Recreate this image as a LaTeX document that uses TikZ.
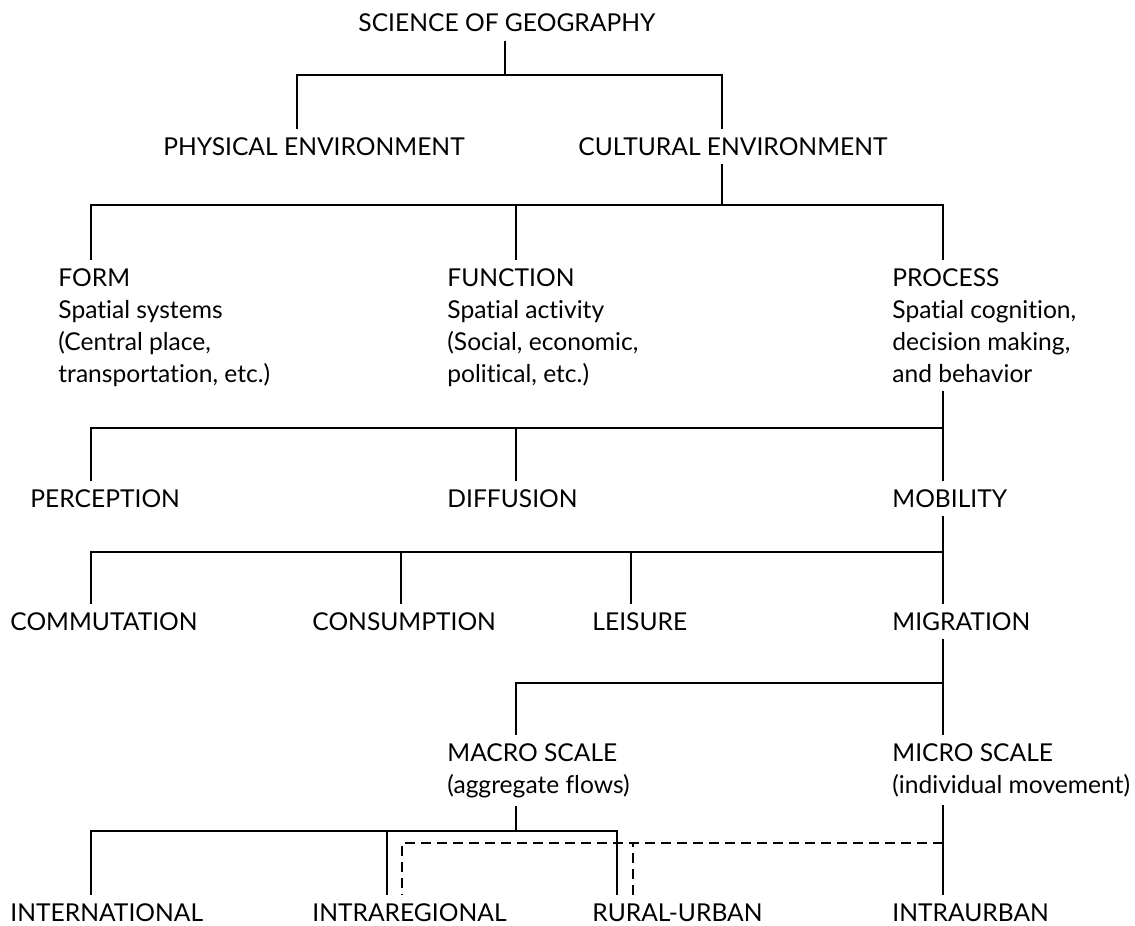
\documentclass[tikz,border=0pt]{standalone}
\usepackage{fontspec}
\setmainfont{Lato}[Ligatures=NoCommon]

\begin{document}
\begin{tikzpicture}[
  x=0.5pt,y=-0.5pt,
  txt/.style={anchor=base west,inner xsep=0pt,inner ysep=4pt,align=left,font=\fontsize{12.3}{16}\selectfont},
  link/.style={line width=1.3pt,draw=black},
  dlink/.style={line width=1.3pt,draw=black,dash pattern=on 5pt off 3pt}
]
\useasboundingbox (0,0) rectangle (1135,926);
\node[txt] (sci) at (358,32) {SCIENCE OF GEOGRAPHY};
\node[txt] (phys) at (163,155) {PHYSICAL ENVIRONMENT};
\node[txt] (cult) at (578,155) {CULTURAL ENVIRONMENT};
\node[txt] (form) at (58,382) {FORM\\Spatial systems\\(Central place,\\transportation, etc.)};
\node[txt] (func) at (447,382) {FUNCTION\\Spatial activity\\(Social, economic,\\political, etc.)};
\node[txt] (proc) at (892,382) {PROCESS\\Spatial cognition,\\decision making,\\and behavior};
\node[txt] (perc) at (30,507) {PERCEPTION};
\node[txt] (diff) at (447,507) {DIFFUSION};
\node[txt] (mob) at (892,507) {MOBILITY};
\node[txt] (comm) at (10,630) {COMMUTATION};
\node[txt] (cons) at (312,630) {CONSUMPTION};
\node[txt] (leis) at (592,630) {LEISURE};
\node[txt] (migr) at (892,630) {MIGRATION};
\node[txt] (macro) at (447,793) {MACRO SCALE\\(aggregate flows)};
\node[txt] (micro) at (892,793) {MICRO SCALE\\(individual movement)};
\node[txt] (intl) at (10,921) {INTERNATIONAL};
\node[txt] (ireg) at (312,921) {INTRAREGIONAL};
\node[txt] (rural) at (592,921) {RURAL-URBAN};
\node[txt] (iurb) at (892,921) {INTRAURBAN};

\coordinate (j-sci) at (505,75);
\coordinate (j-cult) at (722,205);
\coordinate (j-proc) at (943,428);
\coordinate (j-mob) at (943,552);
\coordinate (j-migr) at (943,683);
\coordinate (j-macro) at (516,831);
\coordinate (j-micro) at (943,843);

\draw[link] (sci.south -| j-sci) -- (j-sci);
\draw[link] (j-sci) -| (phys.north -| 297,0);
\draw[link] (j-sci) -| (cult.north -| 722,0);

\draw[link] (cult.south -| j-cult) -- (j-cult);
\draw[link] (j-cult) -| (form.north -| 91,0);
\draw[link] (j-cult) -| (func.north -| 516,0);
\draw[link] (j-cult) -| (proc.north -| 943,0);

\draw[link] (proc.south -| j-proc) -- (j-proc);
\draw[link] (j-proc) -| (perc.north -| 91,0);
\draw[link] (j-proc) -| (diff.north -| 516,0);
\draw[link] (j-proc) -- (mob.north -| j-proc);

\draw[link] (mob.south -| j-mob) -- (j-mob);
\draw[link] (j-mob) -| (comm.north -| 91,0);
\draw[link] (j-mob) -| (cons.north -| 401,0);
\draw[link] (j-mob) -| (leis.north -| 631,0);
\draw[link] (j-mob) -- (migr.north -| j-mob);

\draw[link] (migr.south -| j-migr) -- (j-migr);
\draw[link] (j-migr) -| (macro.north -| 516,0);
\draw[link] (j-migr) -- (micro.north -| j-migr);

\draw[link] (macro.south -| j-macro) -- (j-macro);
\draw[link] (j-macro) -| (intl.north -| 91,0);
\draw[link] (j-macro) -| (ireg.north -| 387,0);
\draw[link] (j-macro) -| (rural.north -| 617,0);

\draw[link] (micro.south -| j-micro) -- (iurb.north -| j-micro);
\draw[dlink] (j-micro) -| (ireg.north -| 402,0);
\draw[dlink] (j-micro) -| (rural.north -| 633,0);
\end{tikzpicture}
\end{document}
